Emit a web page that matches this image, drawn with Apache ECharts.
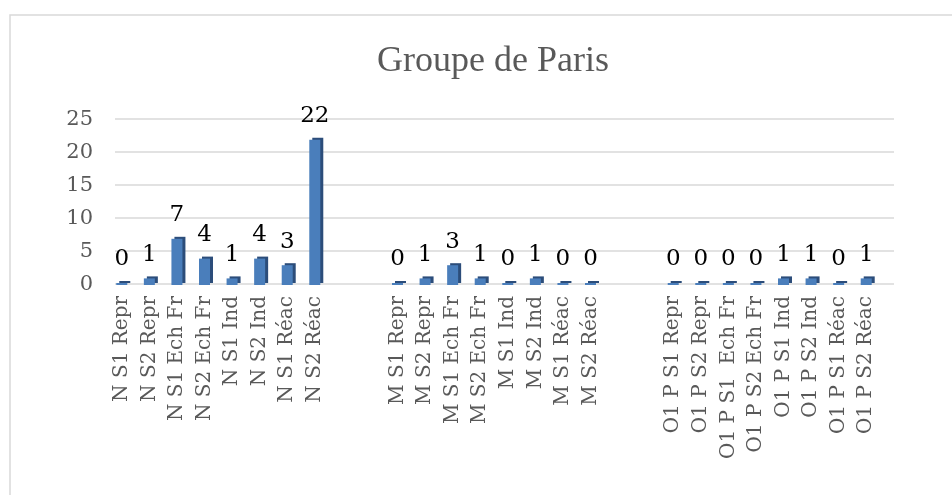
<!DOCTYPE html>
<html>
<head>
<meta charset="utf-8">
<script src="https://cdn.jsdelivr.net/npm/echarts@6/dist/echarts.min.js"></script>
<style>html,body{margin:0;padding:0;background:#fff}#c{width:952px;height:495px}</style>
</head>
<body>
<div id="c"></div>
<script>
var groupN = ["N S1 Repr","N S2 Repr","N S1 Ech Fr","N S2 Ech Fr","N S1 Ind","N S2 Ind","N S1 Réac","N S2 Réac"];
var valuesN = [0,1,7,4,1,4,3,22];
var groupM = ["M S1 Repr","M S2 Repr","M S1 Ech Fr","M S2 Ech Fr","M S1 Ind","M S2 Ind","M S1 Réac","M S2 Réac"];
var valuesM = [0,1,3,1,0,1,0,0];
var groupO = ["O1 P S1 Repr","O1 P S2 Repr","O1 P S1  Ech Fr","O1 P S2 Ech Fr","O1 P S1 Ind","O1 P S2 Ind","O1 P S1 Réac","O1 P S2 Réac"];
var valuesO = [0,0,0,0,1,1,0,1];
var yTicks = [0,5,10,15,20,25];
var gapSize = 2;

var categories = [], values = [];
function addGroup(names, vals, gap) {
  names.forEach(function(n,i){ categories.push(n); values.push(vals[i]); });
  for (var g=0; g<gap; g++) { categories.push(""); values.push(null); }
}
addGroup(groupN, valuesN, gapSize);
addGroup(groupM, valuesM, gapSize);
addGroup(groupO, valuesO, 0);

var chart = echarts.init(document.getElementById('c'));
chart.setOption({
  animation: false,
  graphic: [{
    type: 'rect', shape: {x: 10, y: 15, width: 1000, height: 600},
    style: {fill: 'none', stroke: '#d9d9d9', lineWidth: 1.5}, silent: true
  }],
  title: {
    text: 'Groupe de Paris', left: 488, top: 39, textAlign: 'center',
    textStyle: {fontFamily: 'Liberation Serif', fontSize: 36, fontWeight: 'normal', color: '#595959'}
  },
  grid: [
    {left: 108, right: 72, top: 120, bottom: 210, containLabel: false},
    {left: 115, right: 58, top: 119, bottom: 211, containLabel: false}
  ],
  xAxis: [{
    type: 'category', data: categories, gridIndex: 0,
    axisLine: {show: false},
    axisTick: {show: false},
    axisLabel: {interval: 0, rotate: 90, margin: 11, color: '#595959',
      fontFamily: 'DejaVu Serif', fontSize: 20}
  }, {
    type: 'value', gridIndex: 1, show: false, min: 0, max: 1
  }],
  yAxis: [{
    type: 'value', min: 0, max: 25, interval: 5, gridIndex: 0,
    axisLine: {show: false}, axisTick: {show: false},
    splitLine: {show: false},
    axisLabel: {margin: 15, color: '#595959', fontFamily: 'DejaVu Serif', fontSize: 21,
      formatter: function(v){ return yTicks.indexOf(v) >= 0 ? String(v) : ''; }}
  }, {
    type: 'value', min: 0, max: 25, interval: 5, gridIndex: 1,
    axisLine: {show: false}, axisTick: {show: false}, axisLabel: {show: false},
    splitLine: {lineStyle: {color: '#d9d9d9', width: 1.5}}
  }],
  series: [{
    type: 'bar', data: values, barWidth: 11, barMinHeight: 2, xAxisIndex: 0, yAxisIndex: 0, z: 3,
    itemStyle: {color: '#4a7ebb', shadowColor: '#2c4d7a', shadowOffsetX: 3, shadowOffsetY: -2, shadowBlur: 0},
    label: {show: true, position: 'top', distance: 12, color: '#000',
      fontFamily: 'DejaVu Serif', fontSize: 23,
      formatter: function(p){ return p.value == null ? '' : String(p.value); }}
  }]
});
</script>
</body>
</html>
